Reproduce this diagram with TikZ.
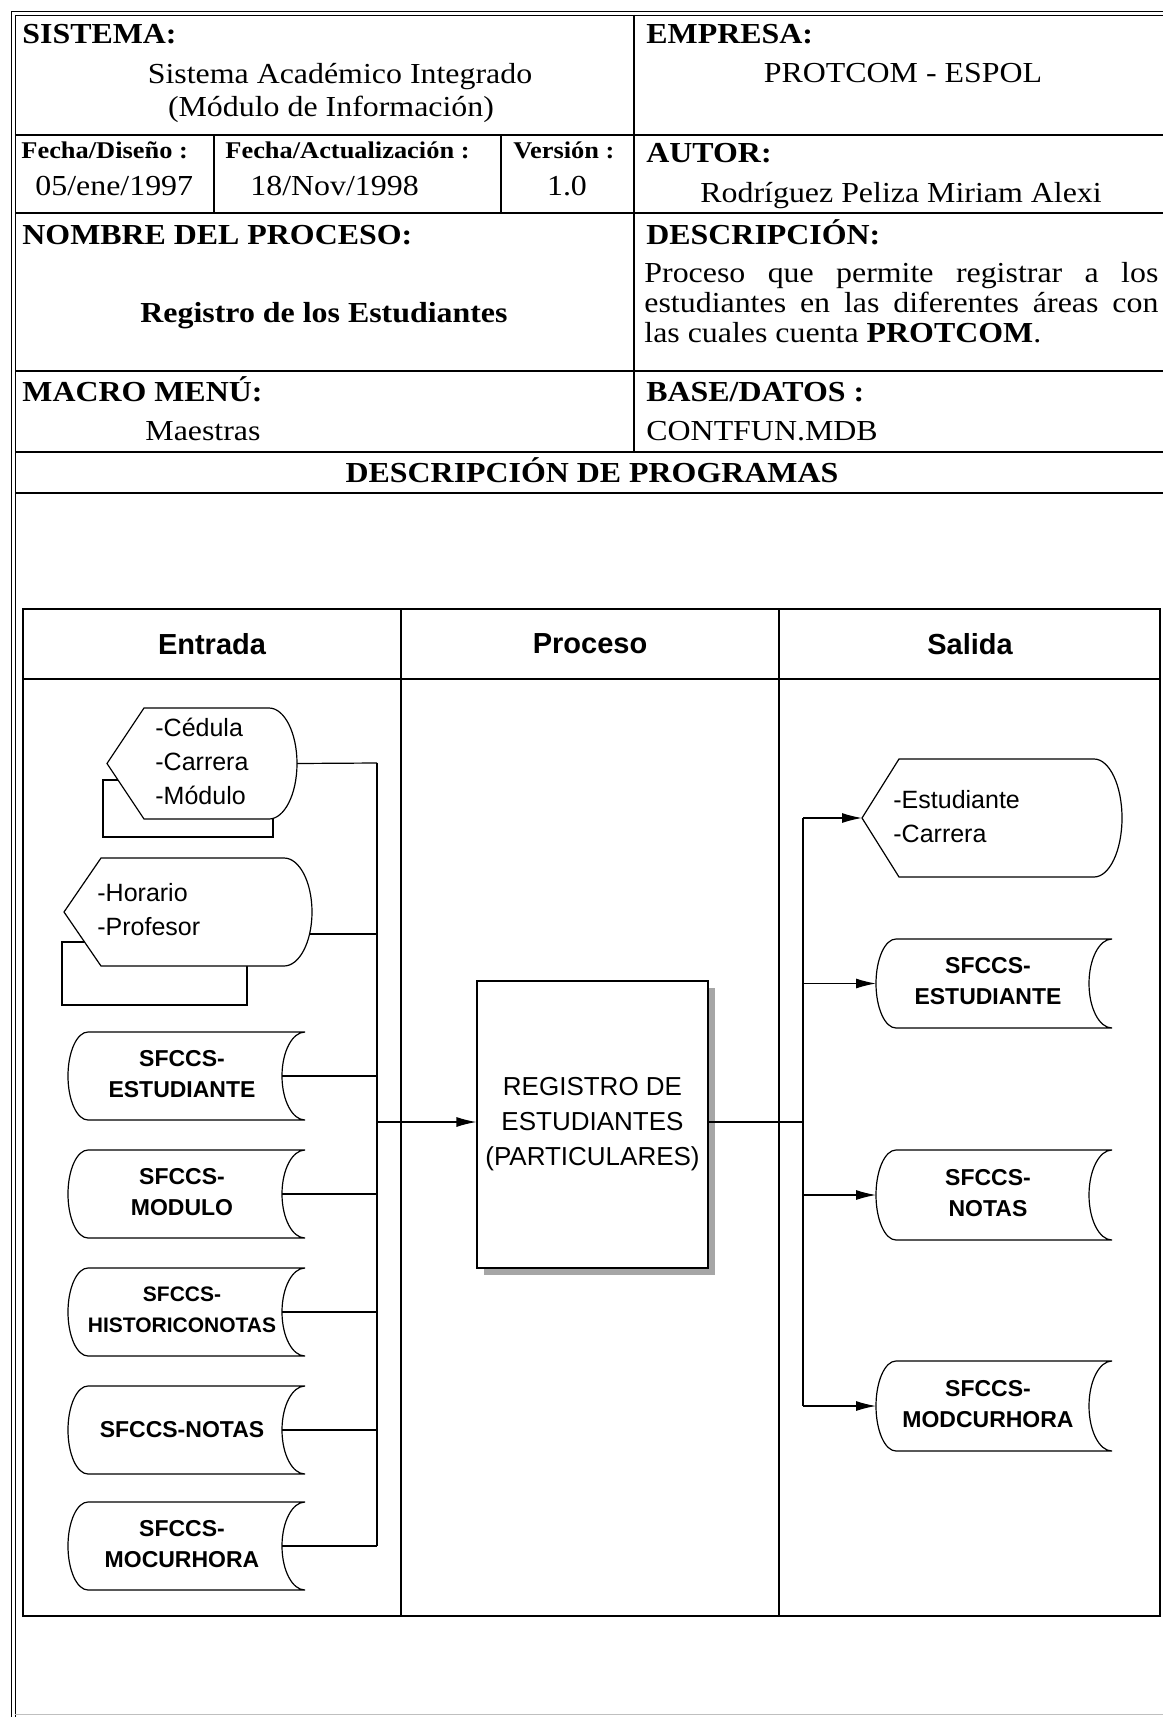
\documentclass[tikz,border=0pt]{standalone}
\usepackage{fontspec}
\setmainfont{Liberation Serif}[FakeStretch=1.1]
\setsansfont{Liberation Sans}
\usetikzlibrary{arrows.meta,calc,positioning,shadows}

\tikzset{
    ln/.style={line width=0.6pt},
    tab/.style={line width=0.8pt},
    arr/.style={line width=0.6pt, -{Latex[length=10pt,width=5pt]}},
    shp/.style={line width=0.6pt, fill=white},
    hdr/.style={font=\bfseries\fontsize{14.5}{16}\selectfont, anchor=base west, inner sep=0pt},
    sml/.style={font=\bfseries\fontsize{12}{14}\selectfont, anchor=base west, inner sep=0pt},
    val/.style={font=\fontsize{14.5}{16}\selectfont, anchor=base west, inner sep=0pt},
    col/.style={font=\sffamily\bfseries\fontsize{14.5}{17}\selectfont},
    dsp/.style={font=\sffamily\fontsize{12.5}{17}\selectfont, align=left, anchor=west, inner sep=0pt},
    dbs/.style={font=\sffamily\bfseries\fontsize{11.5}{15.5}\selectfont, align=center, inner sep=0pt},
    procbox/.style={draw, line width=0.6pt, fill=white, minimum width=115.5pt, minimum height=143.5pt,
        font=\sffamily\fontsize{13}{17.5}\selectfont, align=center,
        drop shadow={shadow xshift=3.5pt, shadow yshift=-3.5pt, fill=gray!70, opacity=1}},
}

% display symbol: name, x1, y1, x2, y2
\newcommand{\dispshape}[5]{%
    \draw[shp] (#2,{(#3+#5)/2}) -- ({#2+37},#3) -- ({#4-28},#3)
        arc[start angle=-90, end angle=90, x radius=28, y radius={(#5-#3)/2}]
        -- ({#2+37},#5) -- cycle;
    \coordinate (#1-w) at (#2,{(#3+#5)/2});
    \coordinate (#1-e) at (#4,{(#3+#5)/2});
}
% stored data symbol: name, x1, y1, x2, y2
\newcommand{\storeshape}[5]{%
    \draw[shp] ({#2+20},#3) -- (#4,#3)
        arc[start angle=270, end angle=90, x radius=23, y radius={(#5-#3)/2}]
        -- ({#2+20},#5)
        arc[start angle=90, end angle=270, x radius=20, y radius={(#5-#3)/2}] -- cycle;
    \coordinate (#1-w) at (#2,{(#3+#5)/2});
    \coordinate (#1-e) at ({#4-23},{(#3+#5)/2});
}

\begin{document}
\begin{tikzpicture}[x=0.5pt, y=-0.5pt]
    \useasboundingbox (0,0) rectangle (1163,1717);

    % frame of the form
    \draw[line width=0.5pt, double, double distance=1.5pt] (13.5,1717) -- (13.5,13.5) -- (1163,13.5);
    \draw[gray!50, line width=0.5pt] (15,1714) -- (1163,1714);

    \draw[tab] (15,135) -- (1163,135) (15,213) -- (1163,213) (15,371) -- (1163,371)
        (15,452) -- (1163,452) (15,493) -- (1163,493);
    \draw[tab] (634,15) -- (634,452);
    \draw[tab] (214,135) -- (214,213) (501,135) -- (501,213);

    \node[hdr] (sis) at (22,44) {SISTEMA:};
    \node[val, anchor=base] (sisv) at (340,84) {Sistema Académico Integrado};
    \node[val, anchor=base] (sisw) at (331,117) {(Módulo de Información)};
    \node[hdr] (emp) at (646,44) {EMPRESA:};
    \node[val, anchor=base] (empv) at (903,83) {PROTCOM - ESPOL};

    \node[sml] (fdis) at (21,159) {Fecha/Diseño :};
    \node[val] (fdisv) at (35,196) {05/ene/1997};
    \node[sml] (fact) at (225,159) {Fecha/Actualización :};
    \node[val] (factv) at (250,196) {18/Nov/1998};
    \node[sml] (ver) at (513,159) {Versión :};
    \node[val, anchor=base] (verv) at (567,196) {1.0};
    \node[hdr] (aut) at (646,163) {AUTOR:};
    \node[val] (autv) at (700,203) {Rodríguez Peliza Miriam Alexi};

    \node[hdr] (nom) at (22,245) {NOMBRE DEL PROCESO:};
    \node[hdr, anchor=base] (nomv) at (324,323) {Registro de los Estudiantes};
    \node[hdr] (des) at (646,245) {DESCRIPCIÓN:};
    \node[val] (desa) at (644,283) {\makebox[257pt][s]{Proceso que permite registrar a los}};
    \node[val] (desb) at (644,313) {\makebox[257pt][s]{estudiantes en las diferentes áreas con}};
    \node[val] (desc) at (644,343) {las cuales cuenta \textbf{PROTCOM}.};

    \node[hdr] (mac) at (22,401) {MACRO MENÚ:};
    \node[val] (macv) at (145,440) {Maestras};
    \node[hdr] (bas) at (646,401) {BASE/DATOS :};
    \node[val] (basv) at (646,440) {CONTFUN.MDB};
    \node[hdr, anchor=base] (prog) at (592,482) {DESCRIPCIÓN DE PROGRAMAS};

    % flow chart
    \draw[line width=0.7pt] (23,609) rectangle (1160,1616);
    \draw[line width=0.7pt] (23,679) -- (1160,679);
    \draw[ln] (401,609) -- (401,1616) (779,609) -- (779,1616);
    \node[col] (hin) at (212,644) {Entrada};
    \node[col] (hproc) at (590,644) {Proceso};
    \node[col] (hout) at (970,644) {Salida};

    % inputs
    \draw[shp] (103,780) rectangle (273,837);
    \dispshape{ced}{107}{708}{297}{819}
    \node[dsp] (ced) at (155,761) {-Cédula\\-Carrera\\-Módulo};

    \draw[shp] (62,942) rectangle (247,1005);
    \dispshape{hor}{64}{858}{312}{966}
    \node[dsp] (hor) at (97,910) {-Horario\\-Profesor};
    \coordinate (hor-c) at (310,934);

    \storeshape{estin}{68}{1032}{305}{1120}
    \node[dbs] (estin) at (182,1074) {SFCCS-\\ESTUDIANTE};
    \storeshape{modin}{68}{1150}{305}{1238}
    \node[dbs] (modin) at (182,1192) {SFCCS-\\MODULO};
    \storeshape{hisin}{68}{1268}{305}{1356}
    \node[dbs, font=\sffamily\bfseries\fontsize{10.5}{15.5}\selectfont] (hisin) at (182,1310) {SFCCS-\\HISTORICONOTAS};
    \storeshape{notin}{68}{1386}{305}{1474}
    \node[dbs] (notin) at (182,1430) {SFCCS-NOTAS};
    \storeshape{mocin}{68}{1502}{305}{1590}
    \node[dbs] (mocin) at (182,1544) {SFCCS-\\MOCURHORA};

    \coordinate (busLt) at (377,763);
    \coordinate (busLm) at (377,1122);
    \coordinate (busLb) at (377,1546);
    \draw[ln] (busLt) -- (busLb);
    \draw[ln] (ced-e) -- (busLt);
    \draw[ln] (hor-c) -- (hor-c -| busLt);
    \draw[ln] (estin-e) -- (estin-e -| busLt);
    \draw[ln] (modin-e) -- (modin-e -| busLt);
    \draw[ln] (hisin-e) -- (hisin-e -| busLt);
    \draw[ln] (notin-e) -- (notin-e -| busLt);
    \draw[ln] (mocin-e) -- (busLb);

    % process
    \node[procbox] (proc) at (592.5,1124.5) {REGISTRO DE\\ESTUDIANTES\\(PARTICULARES)};
    \draw[arr] (busLm) -- (proc.west |- busLm);

    % outputs
    \dispshape{sal}{862}{759}{1122}{877}
    \node[dsp] (sal) at (893,817) {-Estudiante\\-Carrera};
    \storeshape{estout}{876}{939}{1112}{1028}
    \node[dbs] (estout) at (988,981) {SFCCS-\\ESTUDIANTE};
    \storeshape{notout}{876}{1150}{1112}{1240}
    \node[dbs] (notout) at (988,1193) {SFCCS-\\NOTAS};
    \storeshape{modout}{876}{1361}{1112}{1451}
    \node[dbs] (modout) at (988,1404) {SFCCS-\\MODCURHORA};

    \coordinate (busRt) at (803,818);
    \coordinate (busRm) at (803,1122);
    \coordinate (busRb) at (803,1406);
    \draw[ln] (proc.east |- busRm) -- (busRm);
    \draw[ln] (busRt) -- (busRb);
    \draw[arr] (busRt) -- (sal-w);
    \draw[arr] (estout-w -| busRt) -- (estout-w);
    \draw[arr] (notout-w -| busRt) -- (notout-w);
    \draw[arr] (busRb) -- (modout-w);
\end{tikzpicture}
\end{document}
